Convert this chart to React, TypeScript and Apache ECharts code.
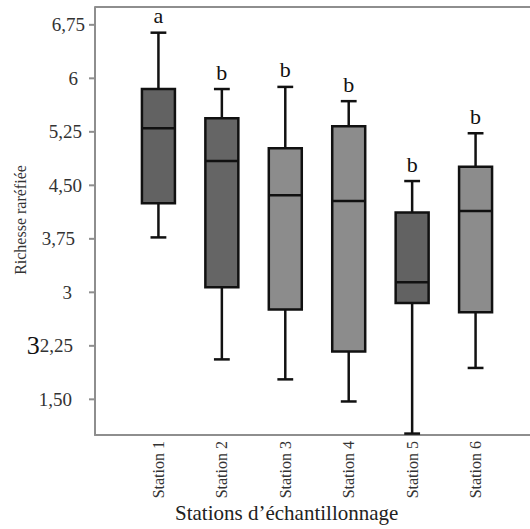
import React, { useEffect, useRef } from 'react';
import * as echarts from 'echarts';

const stations = ['Station 1', 'Station 2', 'Station 3', 'Station 4', 'Station 5', 'Station 6'];
const minVals = [3.77, 2.06, 1.78, 1.47, 1.02, 1.94];
const q1Vals = [4.25, 3.07, 2.76, 2.17, 2.85, 2.72];
const medianVals = [5.3, 4.84, 4.36, 4.28, 3.14, 4.14];
const q3Vals = [5.85, 5.44, 5.02, 5.33, 4.12, 4.76];
const maxVals = [6.64, 5.85, 5.88, 5.68, 4.56, 5.23];
const groupLetters = ['a', 'b', 'b', 'b', 'b', 'b'];
const yTickValues = [1.5, 2.25, 3, 3.75, 4.5, 5.25, 6, 6.75];
const yTickLabels = ['1,50', '32,25', '3', '3,75', '4,50', '5,25', '6', '6,75'];
const xTitle = 'Stations d’échantillonnage';
const yTitle = 'Richesse raréfiée';

// styling only
const boxFills = ['#626262', '#656565', '#8c8c8c', '#8c8c8c', '#626262', '#8c8c8c'];
const yLabelPad = [13, 12, 13, 10, 3, 3, 7, 0];
const SERIF = "'Liberation Serif', serif";
const AXIS_GRAY = '#8e8e8e';

export default function App() {
  const ref = useRef<HTMLDivElement>(null);
  useEffect(() => {
    if (!ref.current) return;
    const chart = echarts.init(ref.current, undefined, { renderer: 'svg' });
    const data = stations.map((_, i) => [i + 1, minVals[i], q1Vals[i], medianVals[i], q3Vals[i], maxVals[i]]);
    chart.setOption({
      animation: false,
      backgroundColor: '#ffffff',
      grid: { show: false, left: 95, top: 7, width: 444, height: 428, outerBoundsMode: 'none' },
      xAxis: {
        type: 'value',
        min: 0,
        max: 7,
        interval: 1,
        splitLine: { show: false },
        axisLine: { show: true, lineStyle: { color: AXIS_GRAY, width: 2 } },
        axisTick: { show: false },
        axisLabel: { show: false },
      },
      yAxis: {
        type: 'value',
        min: 1,
        max: 7,
        splitLine: { show: false },
        axisLine: { show: true, lineStyle: { color: AXIS_GRAY, width: 2 } },
        axisTick: { show: false },
        axisLabel: { show: false },
      },
      series: [
        {
          type: 'custom',
          clip: false,
          encode: { x: 0, y: [1, 2, 3, 4, 5] },
          data,
          renderItem: (params: any, api: any) => {
            const x = api.value(0);
            const lo = api.coord([x, api.value(1)]);
            const q1 = api.coord([x, api.value(2)]);
            const md = api.coord([x, api.value(3)]);
            const q3 = api.coord([x, api.value(4)]);
            const hi = api.coord([x, api.value(5)]);
            const unit = api.size([1, 0])[0];
            const bw = unit * 0.52;
            const cw = bw * 0.48;
            const cx = lo[0];
            const stroke = '#111';
            const i = params.dataIndex;
            return {
              type: 'group',
              children: [
                { type: 'line', shape: { x1: cx, y1: lo[1], x2: cx, y2: q1[1] }, style: { stroke, lineWidth: 2.5 } },
                { type: 'line', shape: { x1: cx, y1: q3[1], x2: cx, y2: hi[1] }, style: { stroke, lineWidth: 2.5 } },
                { type: 'line', shape: { x1: cx - cw / 2, y1: lo[1], x2: cx + cw / 2, y2: lo[1] }, style: { stroke, lineWidth: 2.5 } },
                { type: 'line', shape: { x1: cx - cw / 2, y1: hi[1], x2: cx + cw / 2, y2: hi[1] }, style: { stroke, lineWidth: 2.5 } },
                {
                  type: 'rect',
                  shape: { x: cx - bw / 2, y: q3[1], width: bw, height: q1[1] - q3[1] },
                  style: { fill: boxFills[i], stroke, lineWidth: 2.5 },
                },
                { type: 'line', shape: { x1: cx - bw / 2, y1: md[1], x2: cx + bw / 2, y2: md[1] }, style: { stroke, lineWidth: 2.5 } },
                {
                  type: 'text',
                  x: cx,
                  y: hi[1] - 6,
                  style: {
                    text: groupLetters[i],
                    font: '22px ' + SERIF,
                    fill: '#111',
                    align: 'center',
                    verticalAlign: 'bottom',
                  },
                },
              ],
            };
          },
        },
      ],
    });

    // axis decorations placed through the chart's own scales
    const px = (x: number, y: number) => chart.convertToPixel({ xAxisIndex: 0, yAxisIndex: 0 }, [x, y]) as number[];
    const origin = px(0, 1);
    const topRight = px(7, 7);
    const axisX = origin[0];
    const axisY = origin[1];
    const g: any[] = [];
    g.push({
      type: 'line',
      shape: { x1: axisX, y1: topRight[1], x2: topRight[0], y2: topRight[1] },
      style: { stroke: AXIS_GRAY, lineWidth: 2 },
    });
    yTickValues.forEach((v, i) => {
      const y = px(0, v)[1];
      g.push({ type: 'line', shape: { x1: axisX - 6, y1: y, x2: axisX, y2: y }, style: { stroke: AXIS_GRAY, lineWidth: 2 } });
      const lab = yTickLabels[i];
      const text = lab.startsWith('32,') ? '{big|3}{n|' + lab.slice(1) + '}' : '{n|' + lab + '}';
      g.push({
        type: 'text',
        x: axisX - 10 - yLabelPad[i],
        y,
        style: {
          text,
          align: 'right',
          verticalAlign: 'middle',
          rich: {
            n: { font: '19px ' + SERIF, fill: '#333' },
            big: { font: '26px ' + SERIF, fill: '#111' },
          },
        },
      });
    });
    stations.forEach((s, i) => {
      const x = px(i + 1, 1)[0];
      g.push({
        type: 'text',
        x,
        y: axisY + 6,
        rotation: Math.PI / 2,
        style: { text: s, font: '16px ' + SERIF, fill: '#333', align: 'right', verticalAlign: 'middle' },
      });
    });
    g.push({
      type: 'text',
      x: 175,
      y: 513,
      style: { text: xTitle, font: '21px ' + SERIF, fill: '#222', verticalAlign: 'middle' },
    });
    g.push({
      type: 'text',
      x: 20,
      y: 220,
      rotation: Math.PI / 2,
      style: { text: yTitle, font: '16px ' + SERIF, fill: '#333', align: 'center', verticalAlign: 'middle' },
    });
    chart.setOption({ graphic: g });
    return () => chart.dispose();
  }, []);
  return <div ref={ref} style={{ position: 'fixed', left: 0, top: 0, width: 530, height: 529 }} />;
}
